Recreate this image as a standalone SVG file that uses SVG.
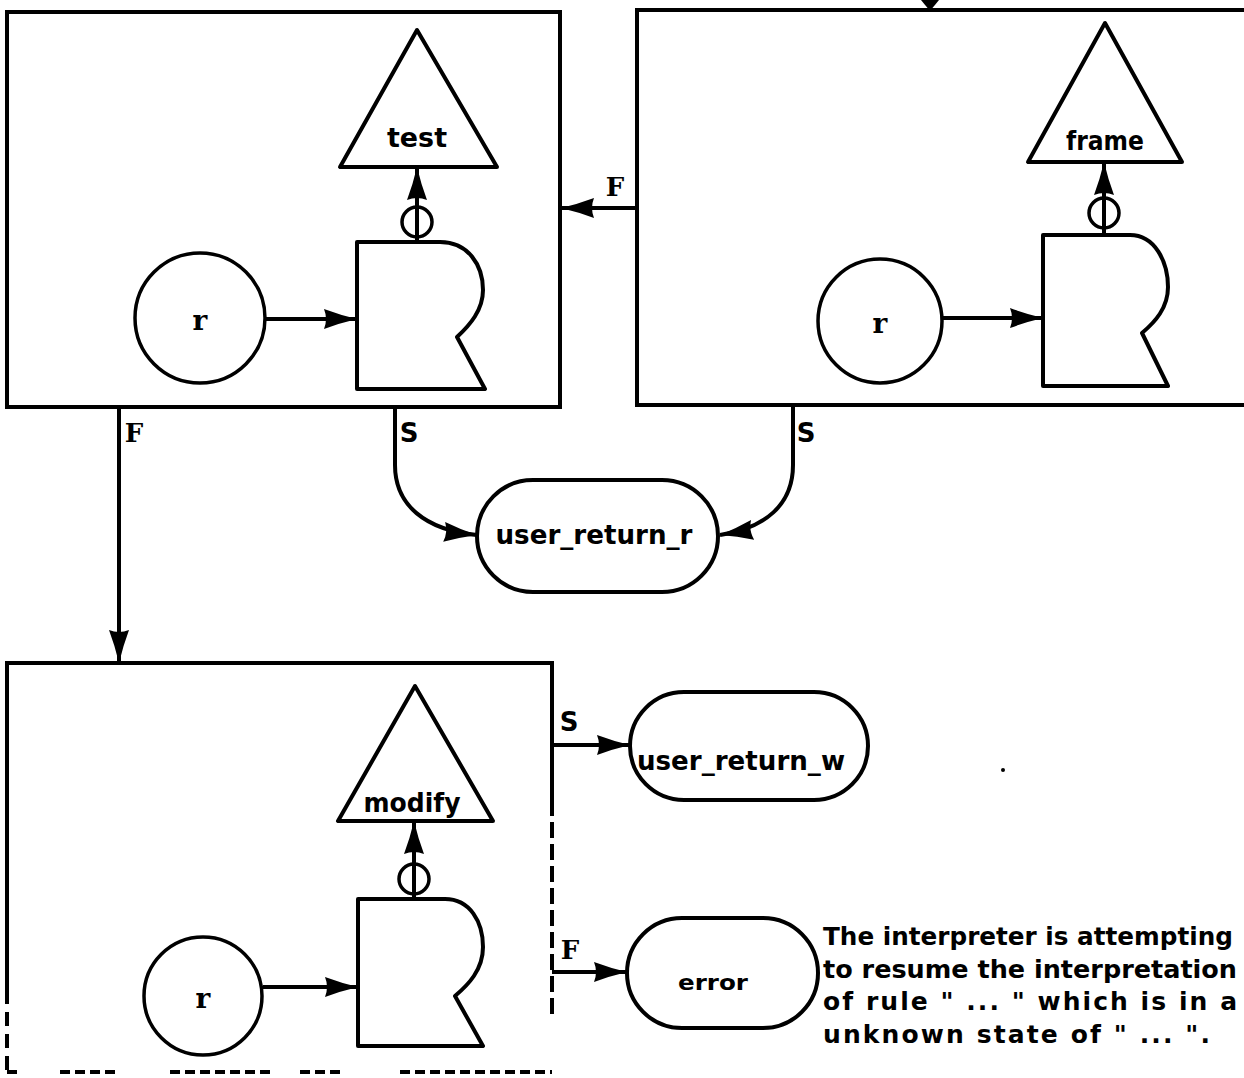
<svg xmlns="http://www.w3.org/2000/svg" width="1244" height="1078" viewBox="0 0 1244 1078">
<style>
.box{fill:none;stroke:#000;stroke-width:4}
.shp{fill:#fff;stroke:#000;stroke-width:4;stroke-linejoin:round}
.sc{fill:#fff;stroke:#000;stroke-width:3.5}
.ln{fill:none;stroke:#000;stroke-width:4}
.lbl{font-family:"DejaVu Sans",sans-serif;font-weight:bold;fill:#000;text-anchor:middle}
.sf{font-family:"DejaVu Serif",serif;font-weight:bold;fill:#000;text-anchor:middle}
.note{font-family:"DejaVu Sans",sans-serif;font-weight:bold;font-size:25px;fill:#000}
</style>
<defs>
<marker id="ah" markerUnits="userSpaceOnUse" markerWidth="34" markerHeight="22" refX="33" refY="11" orient="auto">
<path d="M0,1 Q16,7 33,11 Q16,15 0,21 Q4,11 0,1 Z" fill="#000"/>
</marker>
</defs>
<rect width="1244" height="1078" fill="#fff"/>

<g id="box1">
<rect class="box" x="7" y="12" width="553" height="395"/>
<circle class="sc" cx="200" cy="318" r="65"/>
<text class="sf" x="200" y="330" font-size="28">r</text>
<path class="shp" d="M357,242 H440 C468,242 483,265 483,290 C483,310 470,325 457,337 L485,389 H357 Z"/>
<polygon class="shp" points="417,30 340,167 497,167"/>
<text class="lbl" x="417" y="147" font-size="26" textLength="60" lengthAdjust="spacingAndGlyphs">test</text>
</g>

<g id="box2">
<path class="box" d="M1250,10 H637 V405 H1250"/>
<circle class="sc" cx="880" cy="321" r="62"/>
<text class="sf" x="880" y="333" font-size="28">r</text>
<path class="shp" d="M1043,235 H1130 C1155,235 1168,262 1168,287 C1168,308 1155,322 1142,333 L1168,386 H1043 Z"/>
<polygon class="shp" points="1105,23 1028,162 1182,162"/>
<text class="lbl" x="1105" y="150" font-size="26" textLength="78" lengthAdjust="spacingAndGlyphs">frame</text>
</g>

<g id="box3">
<path class="box" d="M552,800 V663 H7 V990"/>
<path class="box" d="M552,800 V1020" stroke-dasharray="16 6"/>
<path class="box" d="M7,990 V1070" stroke-dasharray="14 8"/>
<path class="box" d="M7,1072 H20 M60,1072 H120 M170,1072 H270 M300,1072 H345 M400,1072 H552" stroke-dasharray="10 5"/>
<circle class="sc" cx="203" cy="996" r="59"/>
<text class="sf" x="203" y="1008" font-size="28">r</text>
<path class="shp" d="M358,899 H445 C470,899 483,922 483,947 C483,970 468,985 455,996 L483,1046 H358 Z"/>
<polygon class="shp" points="415,686 338,821 493,821"/>
<text class="lbl" x="412" y="812" font-size="26" textLength="97" lengthAdjust="spacingAndGlyphs">modify</text>
</g>

<g id="user_return_r">
<rect class="shp" x="477" y="480" width="241" height="112" rx="56" ry="56"/>
<text class="lbl" x="594" y="544" font-size="26" textLength="197" lengthAdjust="spacingAndGlyphs">user_return_r</text>
</g>

<g id="user_return_w">
<rect class="shp" x="630" y="692" width="238" height="108" rx="54" ry="54"/>
<text class="lbl" x="741" y="770" font-size="26" textLength="208" lengthAdjust="spacingAndGlyphs">user_return_w</text>
</g>

<g id="error">
<rect class="shp" x="627" y="918" width="191" height="110" rx="55" ry="55"/>
<text class="lbl" x="713" y="990" font-size="22" textLength="70" lengthAdjust="spacingAndGlyphs">error</text>
</g>

<g id="connectors">
<line class="ln" x1="265" y1="319" x2="357" y2="319" marker-end="url(#ah)"/>
<line class="ln" x1="942" y1="318" x2="1043" y2="318" marker-end="url(#ah)"/>
<line class="ln" x1="263" y1="987" x2="358" y2="987" marker-end="url(#ah)"/>
<line class="ln" x1="417" y1="242" x2="417" y2="167" marker-end="url(#ah)"/>
<circle class="sc" cx="417" cy="222" r="15"/>
<line class="ln" x1="1104" y1="235" x2="1104" y2="162" marker-end="url(#ah)"/>
<circle class="sc" cx="1104" cy="213" r="15"/>
<line class="ln" x1="414" y1="899" x2="414" y2="821" marker-end="url(#ah)"/>
<circle class="sc" cx="414" cy="879" r="15"/>
<line class="ln" x1="417" y1="205" x2="417" y2="240"/>
<line class="ln" x1="1104" y1="196" x2="1104" y2="233"/>
<line class="ln" x1="414" y1="862" x2="414" y2="897"/>
<line class="ln" x1="637" y1="208" x2="561" y2="208" marker-end="url(#ah)"/>
<text class="sf" x="615" y="196" font-size="26">F</text>
<polygon points="921,0 939,0 930,11" fill="#000"/>
<line class="ln" x1="119" y1="407" x2="119" y2="663" marker-end="url(#ah)"/>
<text class="sf" x="134" y="442" font-size="26">F</text>
<path class="ln" d="M395,407 V465 C395,505 425,530 477,535" marker-end="url(#ah)"/>
<text class="lbl" x="409" y="442" font-size="26">S</text>
<path class="ln" d="M793,405 V465 C793,505 765,528 720,535" marker-end="url(#ah)"/>
<text class="lbl" x="806" y="442" font-size="26">S</text>
<line class="ln" x1="552" y1="745" x2="630" y2="745" marker-end="url(#ah)"/>
<text class="lbl" x="569" y="731" font-size="26">S</text>
<line class="ln" x1="552" y1="972" x2="627" y2="972" marker-end="url(#ah)"/>
<text class="sf" x="570" y="959" font-size="26">F</text>
</g>

<g id="note">
<text class="note" x="823" y="945" textLength="410" lengthAdjust="spacingAndGlyphs">The interpreter is attempting</text>
<text class="note" x="823" y="978" textLength="414" lengthAdjust="spacingAndGlyphs">to resume the interpretation</text>
<text class="note" x="823" y="1010" textLength="414" lengthAdjust="spacing">of rule " ... " which is in a</text>
<text class="note" x="823" y="1043" textLength="387" lengthAdjust="spacing">unknown state of " ... ".</text>
</g>
<circle cx="1003" cy="770" r="2" fill="#000"/>
</svg>
